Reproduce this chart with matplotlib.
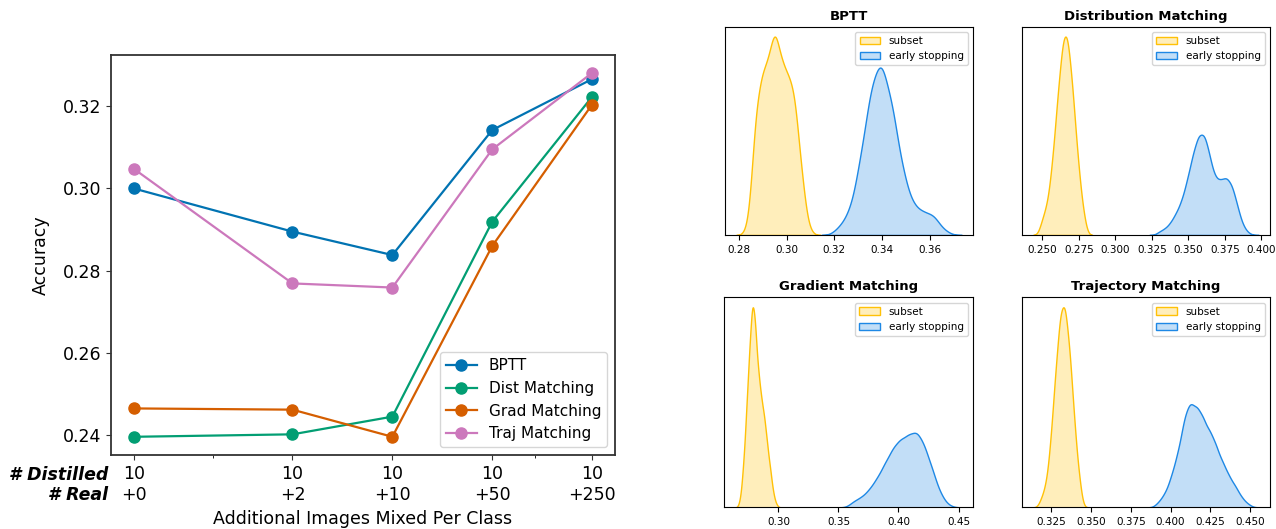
"""Mixing distilled + real images, and early-stopping vs. subset densities."""

import numpy as np
import matplotlib
matplotlib.use("Agg")
import matplotlib.pyplot as plt
from matplotlib.colors import to_rgba
from matplotlib.ticker import FixedLocator, NullFormatter

# ---------- left panel data ------------------------------------------------
REAL_EXTRA = [0, 2, 10, 50, 250]
DISTILLED = [10, 10, 10, 10, 10]
METHODS = ["BPTT", "Dist Matching", "Grad Matching", "Traj Matching"]
ACC_BPTT = [0.3000, 0.2895, 0.2838, 0.3142, 0.3266]
ACC_DIST = [0.2396, 0.2402, 0.2445, 0.2919, 0.3223]
ACC_GRAD = [0.2465, 0.2462, 0.2396, 0.2860, 0.3204]
ACC_TRAJ = [0.3048, 0.2769, 0.2759, 0.3095, 0.3281]
Y_TICKS = [0.24, 0.26, 0.28, 0.30, 0.32]
LINE_COLORS = ["#0173b2", "#029e73", "#d55e00", "#cc78bc"]

# ---------- right panels: weighted accuracy samples per method -------------
# sample accuracies, relative weights, kernel bandwidth, number of runs
BPTT_SUB_X = [0.2842, 0.2869, 0.2897, 0.2924, 0.2951, 0.2979, 0.3006, 0.3033, 0.3061, 0.3088]
BPTT_SUB_W = [0.06, 0.68, 0.84, 0.87, 1.10, 0.88, 0.80, 0.74, 0.34, 0.04]
BPTT_SUB_BW = 0.0018
BPTT_SUB_N = 100
BPTT_ES_X = [0.3224, 0.3267, 0.3311, 0.3354, 0.3397, 0.3441, 0.3484, 0.3527, 0.3570, 0.3614, 0.3657]
BPTT_ES_W = [0.05, 0.14, 0.44, 0.83, 1.00, 0.75, 0.37, 0.17, 0.13, 0.12, 0.03]
BPTT_ES_BW = 0.0026
BPTT_ES_N = 92

DM_SUB_X = [0.2504, 0.2538, 0.2572, 0.2606, 0.2640, 0.2673, 0.2707, 0.2741, 0.2775]
DM_SUB_W = [0.09, 0.16, 0.38, 0.69, 0.95, 0.975, 0.72, 0.38, 0.14]
DM_SUB_BW = 0.0022
DM_SUB_N = 100
DM_ES_X = [0.3305, 0.3343, 0.3381, 0.3418, 0.3456, 0.3494, 0.3532, 0.3570, 0.3608,
           0.3645, 0.3683, 0.3721, 0.3759, 0.3797, 0.3834, 0.3872, 0.3910]
DM_ES_W = [0.02, 0.035, 0.065, 0.115, 0.18, 0.29, 0.42, 0.52, 0.52,
           0.40, 0.29, 0.28, 0.30, 0.26, 0.15, 0.05, 0.01]
DM_ES_BW = 0.0024
DM_ES_N = 92

GM_SUB_X = [0.2686, 0.2710, 0.2735, 0.2759, 0.2783, 0.2807, 0.2832, 0.2856, 0.2880,
            0.2904, 0.2929, 0.2953, 0.2977]
GM_SUB_W = [0.05, 0.24, 0.52, 0.79, 1.05, 0.93, 0.68, 0.54, 0.46, 0.33, 0.21, 0.08, 0.02]
GM_SUB_BW = 0.0015
GM_SUB_N = 100
GM_ES_X = [0.3630, 0.3695, 0.3760, 0.3824, 0.3889, 0.3954, 0.4018, 0.4083, 0.4148,
           0.4212, 0.4277, 0.4342, 0.4406]
GM_ES_W = [0.035, 0.055, 0.095, 0.155, 0.235, 0.31, 0.355, 0.38, 0.40, 0.33, 0.21, 0.08, 0.015]
GM_ES_BW = 0.004
GM_ES_N = 115

TM_SUB_X = [0.3192, 0.3221, 0.3250, 0.3278, 0.3307, 0.3336, 0.3365, 0.3393, 0.3422]
TM_SUB_W = [0.05, 0.12, 0.33, 0.64, 0.93, 0.98, 0.75, 0.42, 0.17]
TM_SUB_BW = 0.0018
TM_SUB_N = 100
TM_ES_X = [0.3928, 0.3967, 0.4007, 0.4046, 0.4086, 0.4125, 0.4165, 0.4204, 0.4244,
           0.4283, 0.4323, 0.4362, 0.4402, 0.4441, 0.4481]
TM_ES_W = [0.03, 0.075, 0.165, 0.28, 0.46, 0.54, 0.51, 0.455, 0.39,
           0.32, 0.235, 0.165, 0.115, 0.055, 0.02]
TM_ES_BW = 0.0024
TM_ES_N = 110

BPTT_TICKS = [0.28, 0.30, 0.32, 0.34, 0.36]
DM_TICKS = [0.250, 0.275, 0.300, 0.325, 0.350, 0.375, 0.400]
GM_TICKS = [0.30, 0.35, 0.40, 0.45]
TM_TICKS = [0.325, 0.350, 0.375, 0.400, 0.425, 0.450]

SUBSET_COLOR = "#FFC107"
EARLY_COLOR = "#1E88E5"


def kde_curve(xs, ws, bw, gridsize=200, cut=3):
    """Weighted Gaussian KDE on a support that runs cut*bw past the samples."""
    xs = np.asarray(xs, float)
    ws = np.asarray(ws, float) / np.sum(ws)
    grid = np.linspace(xs.min() - cut * bw, xs.max() + cut * bw, gridsize)
    k = np.exp(-0.5 * ((grid[:, None] - xs[None, :]) / bw) ** 2)
    return grid, (k * ws).sum(axis=1) / (bw * np.sqrt(2 * np.pi))


def density_panel(fig, rect, title, sub, early, ticks):
    ax = fig.add_axes(rect)
    total = sub[3] + early[3]
    for (xs, ws, bw, n), color, label in ((sub, SUBSET_COLOR, "subset"),
                                          (early, EARLY_COLOR, "early stopping")):
        grid, dens = kde_curve(xs, ws, bw)
        dens = dens * n / total  # common normalisation across both groups
        ax.fill_between(grid, 0, dens, facecolor=to_rgba(color, 0.27),
                        edgecolor=color, linewidth=1.0, label=label)
    ax.set_ylim(bottom=0)
    ax.set_title(title, fontsize=9.5, fontweight="bold", pad=5)
    ax.set_xticks(ticks)
    ax.set_yticks([])
    ax.tick_params(axis="x", labelsize=7.5)
    ax.legend(loc="upper right", fontsize=7.5)
    return ax


fig = plt.figure(figsize=(12.76, 5.29), dpi=100)

# ---------- left panel -----------------------------------------------------
ax = fig.add_axes([0.0868, 0.1399, 0.3952, 0.7567])
for name, ys, c in zip(METHODS, [ACC_BPTT, ACC_DIST, ACC_GRAD, ACC_TRAJ], LINE_COLORS):
    ax.plot(REAL_EXTRA, ys, marker="o", ms=8, lw=1.6, color=c, label=name)
ax.set_xscale("symlog", linthresh=2, linscale=1)
ax.set_xticks(REAL_EXTRA)
ax.set_xticklabels([f"{d}\n+{r}" for d, r in zip(DISTILLED, REAL_EXTRA)])
ax.xaxis.set_minor_locator(FixedLocator([1, 100]))
ax.xaxis.set_minor_formatter(NullFormatter())
ax.set_yticks(Y_TICKS)
ax.set_yticklabels([f"{t:.2f}" for t in Y_TICKS])
ax.tick_params(labelsize=12.5, color="#333333")
for s in ax.spines.values():
    s.set_color("#333333")
    s.set_linewidth(1.3)
ax.set_ylabel("Accuracy", fontsize=12.5, labelpad=9)
ax.set_xlabel("Additional Images Mixed Per Class", fontsize=12.5, labelpad=5)
ax.legend(loc="lower right", fontsize=11)
fig.text(108 / 1276, 1 - 475.5 / 529, "# Distilled", ha="right", va="center",
         fontsize=12.5, fontweight="bold", fontstyle="italic")
fig.text(108 / 1276, 1 - 495.5 / 529, "# Real", ha="right", va="center",
         fontsize=12.5, fontweight="bold", fontstyle="italic")

# ---------- right panels ---------------------------------------------------
density_panel(fig, [0.5682, 0.5558, 0.1944, 0.3938], "BPTT",
              (BPTT_SUB_X, BPTT_SUB_W, BPTT_SUB_BW, BPTT_SUB_N),
              (BPTT_ES_X, BPTT_ES_W, BPTT_ES_BW, BPTT_ES_N), BPTT_TICKS)
density_panel(fig, [0.8009, 0.5558, 0.1944, 0.3938], "Distribution Matching",
              (DM_SUB_X, DM_SUB_W, DM_SUB_BW, DM_SUB_N),
              (DM_ES_X, DM_ES_W, DM_ES_BW, DM_ES_N), DM_TICKS)
density_panel(fig, [0.5674, 0.0410, 0.1951, 0.3970], "Gradient Matching",
              (GM_SUB_X, GM_SUB_W, GM_SUB_BW, GM_SUB_N),
              (GM_ES_X, GM_ES_W, GM_ES_BW, GM_ES_N), GM_TICKS)
density_panel(fig, [0.8009, 0.0410, 0.1944, 0.3970], "Trajectory Matching",
              (TM_SUB_X, TM_SUB_W, TM_SUB_BW, TM_SUB_N),
              (TM_ES_X, TM_ES_W, TM_ES_BW, TM_ES_N), TM_TICKS)

fig.savefig("out.png", dpi=100)
